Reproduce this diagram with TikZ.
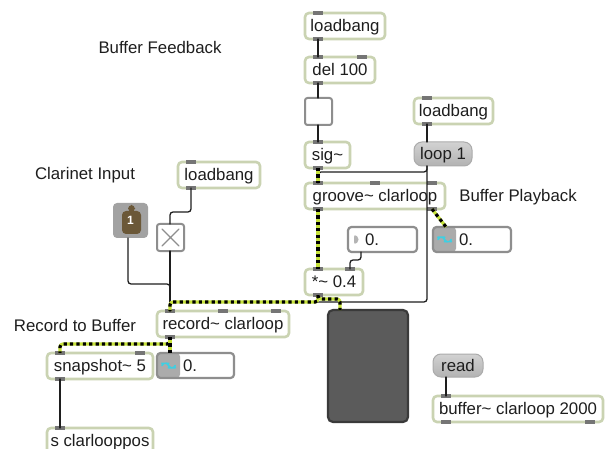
\documentclass[tikz,border=0pt]{standalone}
\usepackage{fontspec}
\setmainfont{Liberation Sans}
\usepackage{tikz}
\usetikzlibrary{calc}
\definecolor{objline}{HTML}{CAD3B2}
\definecolor{portgray}{HTML}{757575}
\definecolor{msgtop}{HTML}{D2D2D2}
\definecolor{msgbot}{HTML}{B2B2B2}
\definecolor{msgline}{HTML}{ABABAB}
\definecolor{numline}{HTML}{8E8E8E}
\definecolor{numgray}{HTML}{ABABAB}
\definecolor{numtri}{HTML}{B4B4B4}
\definecolor{sigyel}{HTML}{C6E23A}
\definecolor{ink}{HTML}{1E1E1E}
\definecolor{scopefill}{HTML}{5B5B5B}
\definecolor{scopeline}{HTML}{3A3A3A}
\definecolor{inletbrown}{HTML}{6B5838}
\definecolor{inletgray}{HTML}{A2A2A2}
\definecolor{tilde}{HTML}{3FCFE2}
\newcommand\patchfont{\fontsize{16.8}{19}\selectfont}
\newcommand\tld{\textasciitilde}
\tikzset{
    every picture/.style={line cap=round,line join=round},
    objbox/.style={draw=objline,fill=white,line width=2.6pt,rounded corners=4pt,
      anchor=north west,minimum height=26pt,inner sep=0pt,outer sep=0pt,
      text height=13pt,text depth=2pt,text=ink},
    msgbox/.style={draw=msgline,line width=1pt,top color=msgtop,bottom color=msgbot,
      rounded corners=8pt,anchor=north west,minimum height=24pt,inner sep=0pt,
      outer sep=0pt,text height=13pt,text depth=2pt,text=ink},
    numbox/.style={draw=numline,fill=white,line width=2.2pt,rounded corners=3.5pt,
      anchor=north west,minimum height=25pt,inner sep=0pt,outer sep=0pt,
      text height=13pt,text depth=2pt,text=ink},
    sigtilde/.style={path picture={
      \fill[numgray] (path picture bounding box.north west) rectangle
        ([xshift=23pt]path picture bounding box.south west);
      \draw[tilde,line width=1.6pt] ([xshift=5pt]path picture bounding box.west)
        sin ++(3.3pt,2.2pt) cos ++(3.3pt,-2.2pt) sin ++(3.3pt,-2.2pt) cos ++(3.3pt,2.2pt);}},
    floattri/.style={path picture={
      \fill[numtri] ([xshift=6pt,yshift=6pt]path picture bounding box.west)
        -- ++(0pt,-12pt) -- ++(6pt,6pt) -- cycle;}},
    togbox/.style={draw=numline,fill=white,line width=2pt,rounded corners=2.5pt,
      anchor=north west,minimum size=27pt,inner sep=0pt,outer sep=0pt},
    togcross/.style={path picture={
      \draw[numline,line width=1.4pt]
        ([shift={(5pt,-5pt)}]path picture bounding box.north west) --
        ([shift={(-5pt,5pt)}]path picture bounding box.south east)
        ([shift={(-5pt,-5pt)}]path picture bounding box.north east) --
        ([shift={(5pt,5pt)}]path picture bounding box.south west);}},
    inletbox/.style={fill=inletgray,rounded corners=4pt,anchor=north west,
      minimum size=35pt,inner sep=0pt,outer sep=0pt,text=white,
      font=\fontsize{12}{13}\selectfont\bfseries,path picture={
      \fill[inletbrown] ([xshift=9pt,yshift=4pt]path picture bounding box.south west)
        rectangle ([xshift=-7pt,yshift=-8pt]path picture bounding box.north east);
      \fill[inletbrown] ([xshift=15pt,yshift=-2pt]path picture bounding box.north west)
        rectangle ([xshift=22pt,yshift=-9pt]path picture bounding box.north west);}},
    scopebox/.style={draw=scopeline,fill=scopefill,line width=2.2pt,rounded corners=5pt,
      anchor=north west,minimum width=80pt,minimum height=112pt,outer sep=0pt},
    port/.style={fill=portgray},
    cord/.style={draw=ink,line width=1.3pt,rounded corners=3pt},
    sigcord/.style={draw=sigyel,line width=3.2pt,line cap=butt,rounded corners=3pt,
      postaction={draw=black,line cap=butt,dash pattern=on 3.2pt off 3.2pt}},
    comment/.style={text=ink}
}
\begin{document}
\begin{tikzpicture}[x=1pt,y=-1pt,font=\patchfont]
  \useasboundingbox (0,0) rectangle (605,449);
  \clip (0,0) rectangle (605,449);
  \fill[white] (0,0) rectangle (605,449);
  \foreach \nm/\x/\y/\w/\txt in {lbT/305/13/80/loadbang, del/305/57/70/del 100,
      sig/305/142/45/sig\tld, lbR/414/98/79/loadbang, lbL/178/162/82/loadbang,
      grv/305/183/140/groove\tld{} clarloop, mul/305/269/58/*\tld{} 0.4,
      rec/157/311/132/record\tld{} clarloop, snap/47/353/106/snapshot\tld{} 5,
      sout/47/428/106/s clarlooppos, buf/433/396/170/buffer\tld{} clarloop 2000}
    \node[objbox,minimum width=\w] (\nm) at (\x,\y) {\txt};
  \node[msgbox,minimum width=58] (loop) at (414,142) {loop 1};
  \node[msgbox,minimum width=50,minimum height=23] (read) at (433,354) {read};
  \node[togbox] (tgT) at (305,98) {};
  \node[togbox,togcross] (tgX) at (157,224) {};
  \node[inletbox] (inl) at (113,203) {1};
  \node[numbox,floattri] (num1) at (348,227) {\makebox[69pt][l]{\hspace{17pt}0.}};
  \node[numbox,sigtilde] (numP) at (433,227) {\makebox[78pt][l]{\hspace{26pt}0.}};
  \node[numbox,sigtilde] (numR) at (157,353) {\makebox[77pt][l]{\hspace{26pt}0.}};
  \node[scopebox] (scp) at (328,310) {};
  \node[comment] (lblFeed) at (160,47) {Buffer Feedback};
  \node[comment] (lblIn) at (85,175) {Clarinet Input};
  \node[comment] (lblPlay) at (518,197) {Buffer Playback};
  \node[comment] (lblRec) at (75,325) {Record to Buffer};
  \foreach \n/\a/\dx in {lbT/north west/13, lbT/south west/13, del/north west/13,
      del/north east/-13, del/south west/13, sig/north west/13, sig/south west/13,
      lbR/north west/13, lbR/south west/13, lbL/north west/13, lbL/south west/13,
      grv/north west/13, grv/north/0, grv/north east/-13, grv/south west/13,
      grv/south east/-13, mul/north west/13, mul/north east/-13, mul/south west/13,
      rec/north west/13, rec/north/0, rec/north east/-13, rec/south west/13,
      snap/north west/13, snap/north east/-13, snap/south west/13, sout/north west/13,
      buf/north west/13, buf/south west/13, buf/south east/-13}
    \fill[port] ($(\n.\a)+(\dx,0)$) +(-5,-1.8) rectangle +(5,1.8);
  \draw[cord] ($(lbT.south west)+(13,0)$) -- ($(del.north west)+(13,0)$);
  \draw[cord] ($(del.south west)+(13,0)$) -- ($(tgT.north west)+(13,0)$);
  \draw[cord] ($(tgT.south west)+(13,0)$) -- ($(sig.north west)+(13,0)$);
  \draw[cord] ($(lbR.south west)+(13,0)$) -- ($(loop.north west)+(13,0)$);
  \draw[cord] ($(loop.south west)+(13,0)$) -- ++(0,6) -| ($(grv.north west)+(13,0)$);
  \draw[cord] ($(loop.south west)+(13,0)$) |- ($(rec.north west)+(13,-9)$)
    -- ($(rec.north west)+(13,0)$);
  \draw[cord] ($(lbL.south west)+(13,0)$) -- ++(0,24) -| ($(tgX.north west)+(13,0)$);
  \draw[cord] ($(tgX.south west)+(13,0)$) -- ($(rec.north west)+(13,0)$);
  \draw[cord] ($(inl.south west)+(15,0)$) -- ++(0,46) -| ($(rec.north west)+(13,0)$);
  \draw[cord] ($(num1.south west)+(13,0)$) -- ++(0,8) -| ($(mul.north east)+(-13,0)$);
  \draw[cord] ($(read.south west)+(13,0)$) -- ($(buf.north west)+(13,0)$);
  \draw[cord] ($(snap.south west)+(13,0)$) -- ($(sout.north west)+(13,0)$);
  \draw[sigcord] ($(sig.south west)+(13,0)$) -- ($(grv.north west)+(13,0)$);
  \draw[sigcord] ($(grv.south west)+(13,0)$) -- ($(mul.north west)+(13,0)$);
  \draw[sigcord] ($(grv.south east)+(-13,0)$) -- ($(numP.north west)+(13,0)$);
  \draw[sigcord] ($(mul.south west)+(13,0)$) -- ++(0,7) -| ($(rec.north west)+(13,0)$);
  \draw[sigcord] ($(mul.south west)+(13,0)$) -- ++(0,4) -| ($(scp.north west)+(12,0)$);
  \draw[sigcord] ($(rec.south west)+(13,0)$) -- ++(0,7) -| ($(snap.north west)+(13,0)$);
  \draw[sigcord] ($(rec.south west)+(13,0)$) -- ($(numR.north west)+(13,0)$);
\end{tikzpicture}
\end{document}
